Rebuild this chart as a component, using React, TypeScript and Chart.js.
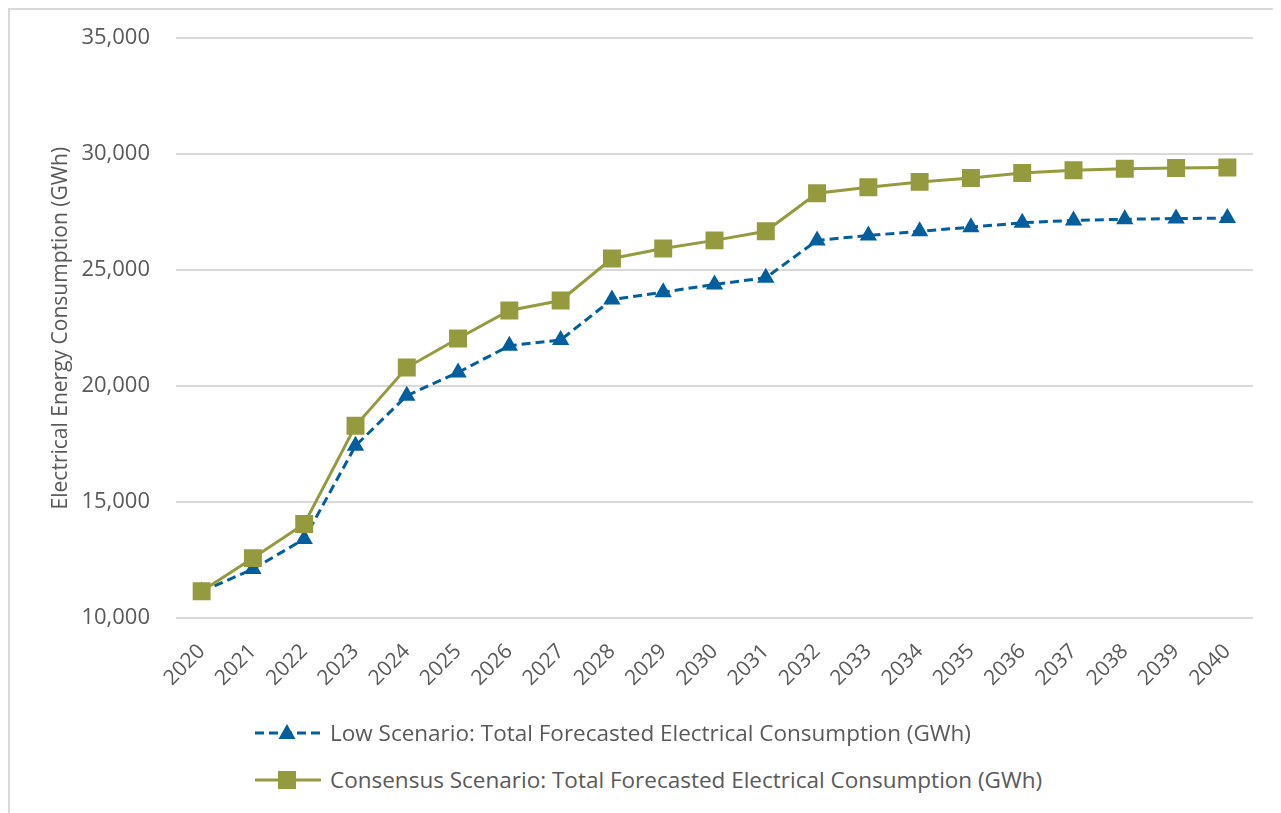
import React, { useEffect, useRef } from "react";
import { Chart, registerables } from "chart.js";

Chart.register(...registerables);

const years = ["2020","2021","2022","2023","2024","2025","2026","2027","2028","2029","2030","2031","2032","2033","2034","2035","2036","2037","2038","2039","2040"];
const lowScenario = [11150,12120,13410,17430,19590,20590,21740,21990,23730,24050,24380,24670,26280,26490,26670,26850,27040,27140,27190,27220,27240];
const consensusScenario = [11160,12590,14060,18290,20800,22050,23260,23690,25500,25930,26280,26670,28310,28570,28800,28970,29180,29300,29370,29400,29420];
const lowLabel = "Low Scenario: Total Forecasted Electrical Consumption (GWh)";
const consensusLabel = "Consensus Scenario: Total Forecasted Electrical Consumption (GWh)";
const yTitle = "Electrical Energy Consumption (GWh)";
const yMin = 10000;
const yMax = 35000;
const yStep = 5000;

const BLUE = "#025E9C";
const OLIVE = "#959A3E";
const TEXT = "#595959";
const GRID = "#D9D9D9";
const FONT = "'Open Sans', 'Noto Sans', sans-serif";

export default function App() {
  const ref = useRef<HTMLCanvasElement>(null);
  useEffect(() => {
    if (!ref.current) return;
    const chart = new Chart(ref.current, {
      type: "line",
      data: {
        labels: years,
        datasets: [
          {
            label: consensusLabel,
            data: consensusScenario,
            borderColor: OLIVE,
            backgroundColor: OLIVE,
            borderWidth: 3,
            pointStyle: "rect",
            pointRadius: 12.7,
            pointBorderWidth: 0,
            tension: 0,
          },
          {
            label: lowLabel,
            data: lowScenario,
            borderColor: BLUE,
            backgroundColor: BLUE,
            borderWidth: 3,
            borderDash: [9, 5],
            pointStyle: "triangle",
            pointRadius: 10,
            pointBorderWidth: 0,
            tension: 0,
          },
        ],
      },
      options: {
        animation: false,
        responsive: false,
        maintainAspectRatio: false,
        layout: { padding: { left: 38, right: 28, top: 28, bottom: 6 } },
        plugins: { legend: { display: false }, tooltip: { enabled: false } },
        scales: {
          x: {
            offset: true,
            grid: { display: false, drawTicks: false },
            border: { display: false },
            ticks: {
              color: TEXT,
              font: { family: FONT, size: 21 },
              maxRotation: 45,
              minRotation: 45,
              padding: 21,
            },
          },
          y: {
            min: yMin,
            max: yMax,
            grid: { color: GRID, lineWidth: 2, drawTicks: false },
            border: { display: false },
            afterFit: (scale: any) => {
              scale.width = 128;
              scale.paddingTop = 13;
              scale.paddingBottom = 13;
            },
            ticks: {
              stepSize: yStep,
              color: TEXT,
              font: { family: FONT, size: 22 },
              padding: 26,
              callback: (v: any) => Number(v).toLocaleString("en-US"),
            },
            title: {
              display: true,
              text: yTitle,
              color: TEXT,
              font: { family: FONT, size: 21 },
              padding: { top: 0, bottom: 10 },
            },
          },
        },
      },
    });
    return () => chart.destroy();
  }, []);

  const textStyle: React.CSSProperties = {
    position: "absolute",
    left: 320,
    fontFamily: FONT,
    fontSize: 22.5,
    color: TEXT,
    whiteSpace: "nowrap",
    lineHeight: "30px",
  };

  return (
    <div
      style={{
        position: "relative",
        width: 1273,
        height: 805,
        borderLeft: `2px solid ${GRID}`,
        borderTop: `2px solid ${GRID}`,
        boxSizing: "border-box",
      }}
    >
      <canvas ref={ref} width={1271} height={708} style={{ display: "block" }} />
      <svg style={{ position: "absolute", left: 243, top: 711 }} width={70} height={24}>
        <line x1={2} y1={12} x2={68} y2={12} stroke={BLUE} strokeWidth={3} strokeDasharray="9 5" />
        <polygon points="34,3 42.5,18 25.5,18" fill={BLUE} />
      </svg>
      <div style={{ ...textStyle, top: 708 }}>{lowLabel}</div>
      <svg style={{ position: "absolute", left: 243, top: 758 }} width={70} height={24}>
        <line x1={2} y1={12} x2={68} y2={12} stroke={OLIVE} strokeWidth={3} />
        <rect x={25} y={3} width={18} height={18} fill={OLIVE} />
      </svg>
      <div style={{ ...textStyle, top: 755 }}>{consensusLabel}</div>
    </div>
  );
}
